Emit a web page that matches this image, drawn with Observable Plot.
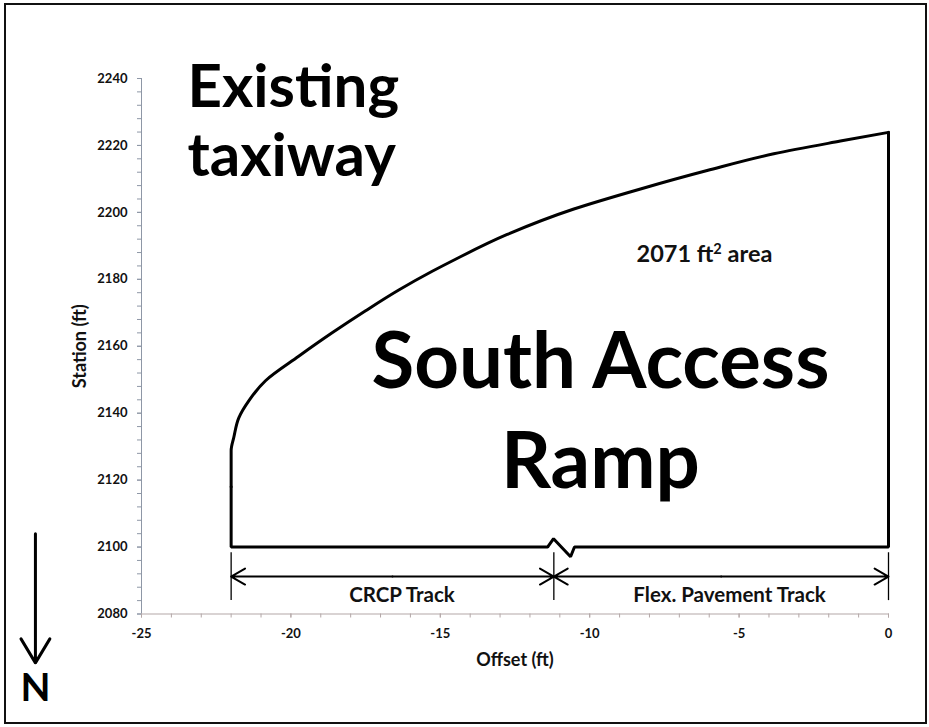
<!DOCTYPE html>
<html><head><meta charset="utf-8">
<script src="https://cdn.jsdelivr.net/npm/d3@7"></script>
<script src="https://cdn.jsdelivr.net/npm/@observablehq/plot@0.6"></script>
<style>
html,body{margin:0;padding:0;background:#fff;}
#wrap{position:relative;width:929px;height:727px;overflow:hidden;background:#fff;}
#frame{position:absolute;left:4px;top:3px;width:923px;height:721px;box-sizing:border-box;border:2px solid #111;pointer-events:none;}
#chart svg{display:block;}
</style></head><body>
<div id="wrap"><div id="chart"></div><div id="frame"></div></div>
<script>
// ---- data ----
// curved north edge of the ramp (offset ft, station ft)
const curveOffset  = [-22, -22, -21.91, -21.74, -21.41, -20.85, -19.74, -18.62, -17.50, -16.39, -15.27, -14.49, -12.76, -10.53, -8.30, -6.07, -3.84, -1.61, 0];
const curveStation = [2118.0, 2128.8, 2132.8, 2138.7, 2143.7, 2149.7, 2157.0, 2164.0, 2170.6, 2176.8, 2182.4, 2186.0, 2193.4, 2201.0, 2207.0, 2212.5, 2217.5, 2221.3, 2223.9];
// straight edges (east side, south side with break symbol, west side)
const edgeOffset  = [0, 0, -10.51, -10.64, -11.21, -11.41, -22, -22];
const edgeStation = [2223.9, 2100, 2100, 2097.1, 2102.5, 2100, 2100, 2118.0];
// pavement tracks (dimension lines)
const trackNames = ["CRCP Track", "Flex. Pavement Track"];
const trackFrom  = [-22, -11.2];
const trackTo    = [-11.2, 0];
const trackStation = 2091.2;
const trackLabelOffset = [-16.28, -5.32];
const trackLabelStation = 2083.6;
const extensionOffset = [-22, -11.2, 0];
const extensionStation = [2098.3, 2084.0];
// annotations
const annText    = ["Existing\ntaxiway", "South Access\nRamp", "2071 ft² area"];
const annOffset  = [-23.46, -9.64, -6.16];
const annStation = [2211.0, 2117.7, 2185.1];
// north arrow
const northOffset = -28.55;
const northStation = [2104.0, 2065.4, 2054.0];
// axes
const offsetTicks = d3.range(-25, 1, 5);
const offsetMinor = d3.range(-25, 1, 1);
const stationTicks = d3.range(2080, 2241, 20);
const stationMinor = d3.range(2080, 2241, 4);
const xLabel = "Offset (ft)";
const yLabel = "Station (ft)";

// ---- build ----
const curve = curveOffset.map((x, i) => ({x, y: curveStation[i]}));
const edge = edgeOffset.map((x, i) => ({x, y: edgeStation[i]}));
const dimArrows = [];
trackNames.forEach((n, i) => {
  const mid = (trackFrom[i] + trackTo[i]) / 2;
  dimArrows.push({x1: mid, x2: trackFrom[i]}, {x1: mid, x2: trackTo[i]});
});
const trackLabels = trackNames.map((t, i) => ({t, x: trackLabelOffset[i]}));
const ann = annText.map((t, i) => ({t, x: annOffset[i], y: annStation[i]}));

const axisGray = "#8e97a6";
const axisGray2 = "#b3a7a7";

const chart = Plot.plot({
  width: 929,
  height: 727,
  marginLeft: 141,
  marginRight: 41,
  marginTop: 78,
  marginBottom: 113.5,
  style: {fontFamily: "Lato, 'Open Sans', sans-serif", background: "transparent", color: "#111"},
  x: {domain: [-25, 0]},
  y: {domain: [2080, 2240]},
  marks: [
    // axes
    Plot.axisY(stationMinor, {tickSize: 4, tickFormat: () => "", stroke: axisGray, label: null}),
    Plot.axisY(stationTicks, {tickSize: 4, tickPadding: 10, tickFormat: d => String(d), stroke: axisGray, fill: "#111", fontSize: 13, fontWeight: "bold", label: null}),
    Plot.axisX(offsetMinor, {tickSize: 4, tickFormat: () => "", stroke: axisGray2, label: null}),
    Plot.axisX(offsetTicks, {tickSize: 4, tickPadding: 11, tickFormat: d => String(d), stroke: axisGray2, fill: "#111", fontSize: 13, fontWeight: "bold", label: null}),
    Plot.ruleX([-25], {stroke: axisGray, strokeWidth: 1}),
    Plot.ruleY([2080], {stroke: axisGray2, strokeWidth: 1.2}),
    Plot.text([yLabel], {frameAnchor: "left", textAnchor: "middle", lineAnchor: "middle", dx: -61, rotate: -90, fontSize: 18, fontWeight: "bold", fill: "#111"}),
    Plot.text([xLabel], {frameAnchor: "bottom", textAnchor: "middle", lineAnchor: "middle", dy: 46.5, fontSize: 18, fontWeight: "bold", fill: "#111"}),
    // ramp outline
    Plot.line(curve, {x: "x", y: "y", curve: "monotone-y", stroke: "#000", strokeWidth: 3}),
    Plot.line(edge, {x: "x", y: "y", curve: "linear", stroke: "#000", strokeWidth: 3, strokeLinejoin: "miter"}),
    // dimension lines
    Plot.ruleX(extensionOffset, {y1: extensionStation[0], y2: extensionStation[1], stroke: "#000", strokeWidth: 1.3}),
    Plot.arrow(dimArrows, {x1: "x1", x2: "x2", y1: () => trackStation, y2: () => trackStation, stroke: "#000", strokeWidth: 2, headLength: 12, headAngle: 60}),
    Plot.text(trackLabels, {x: "x", y: () => trackLabelStation, text: "t", lineAnchor: "bottom", fontSize: 20.5, fontWeight: "bold", fill: "#111"}),
    // annotations
    Plot.text([ann[0]], {x: "x", y: "y", text: "t", textAnchor: "start", lineAnchor: "bottom", lineHeight: 1.15, fontSize: 60, fontWeight: "bold", fill: "#000"}),
    Plot.text([ann[1]], {x: "x", y: "y", text: "t", textAnchor: "middle", lineAnchor: "bottom", lineHeight: 1.28, fontSize: 78, fontWeight: "bold", fill: "#000"}),
    Plot.text([ann[2]], {x: "x", y: "y", text: "t", textAnchor: "middle", lineAnchor: "bottom", fontSize: 23.5, fontWeight: "bold", fill: "#111"}),
    // north arrow
    Plot.arrow([0], {x1: () => northOffset, x2: () => northOffset, y1: () => northStation[0], y2: () => northStation[1], stroke: "#000", strokeWidth: 3, headLength: 14, headAngle: 62}),
    Plot.text(["N"], {x: () => northOffset, y: () => northStation[2], lineAnchor: "bottom", fontSize: 39, fontWeight: "bold", fill: "#000"})
  ]
});
// render the "²" as a larger superscript, as in the reference
chart.querySelectorAll("text").forEach(t => {
  if (t.textContent === annText[2]) {
    const [before, after] = annText[2].split("²");
    const ns = "http://www.w3.org/2000/svg";
    t.textContent = "";
    const a = document.createElementNS(ns, "tspan"); a.textContent = before;
    const s = document.createElementNS(ns, "tspan"); s.textContent = "2";
    s.setAttribute("font-size", "0.62em"); s.setAttribute("baseline-shift", "super");
    const b = document.createElementNS(ns, "tspan"); b.textContent = after;
    t.append(a, s, b);
  }
});
document.getElementById("chart").appendChild(chart);
</script></body></html>
